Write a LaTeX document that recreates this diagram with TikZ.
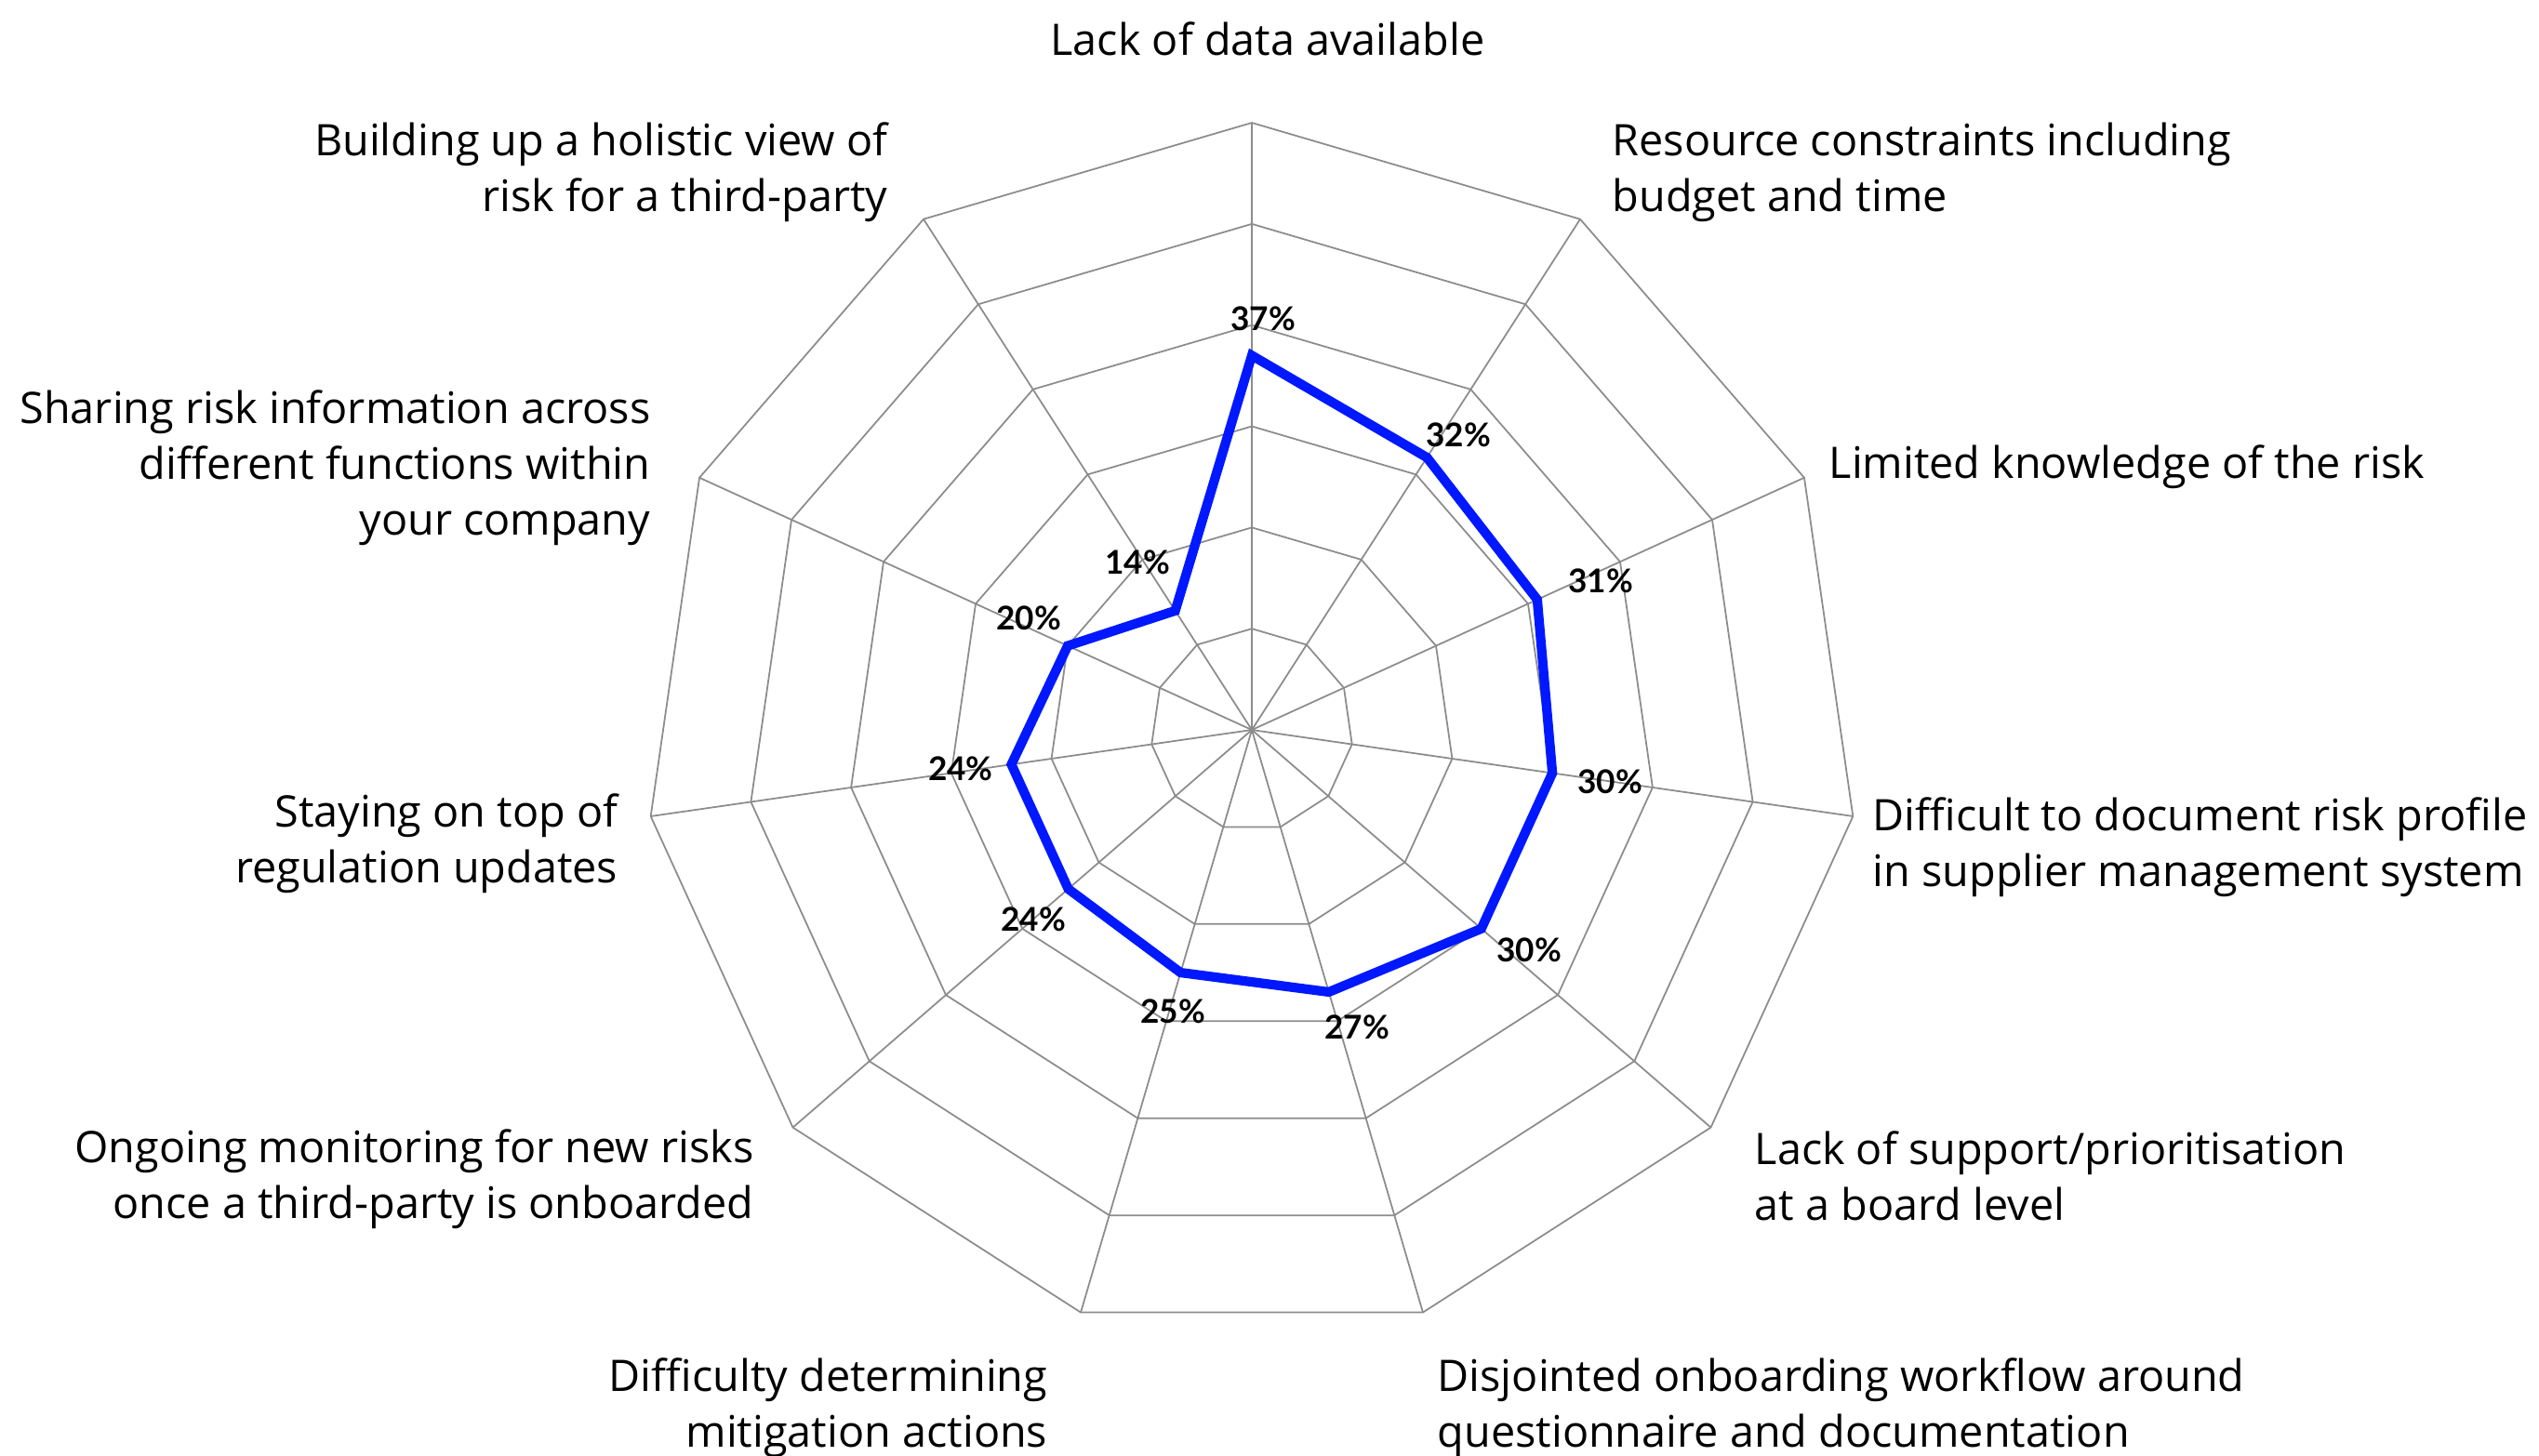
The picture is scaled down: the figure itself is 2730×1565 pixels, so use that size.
\documentclass[tikz,border=0pt]{standalone}
\usepackage{fontspec}
\setmainfont{Open Sans}
\newfontfamily\pctfont{Lato}
\definecolor{gridgray}{RGB}{140,140,140}
\definecolor{serieblue}{RGB}{0,24,255}
\newcommand\cellL[1]{\begin{tabular}[t]{@{}l@{}}#1\end{tabular}}
\newcommand\cellR[1]{\begin{tabular}[t]{@{}r@{}}#1\end{tabular}}
\begin{document}
\begin{tikzpicture}[x=0.01cm,y=-0.01cm,
  gridline/.style={draw=gridgray,line width=0.5pt},
  series/.style={draw=serieblue,line width=2.9pt,line join=miter},
  cat/.style={inner sep=0pt,font=\fontsize{13.3}{17.07}\selectfont},
  pct/.style={inner sep=0pt,font=\pctfont\bfseries\fontsize{10}{11}\selectfont},
]
\useasboundingbox (0,0) rectangle (2730,1565);
\def\cx{1346}\def\cy{785}\def\R{653}
\coordinate (O) at (\cx,\cy);
\foreach \k in {0,...,10}{
  \pgfmathsetmacro\ang{90-\k*360/11}
  \coordinate (A\k) at ({\cx+\R*cos(\ang)},{\cy-\R*sin(\ang)});
}
% rings
\foreach \r in {1,...,6}{
  \draw[gridline] ({\cx},{\cy-\r*\R/6})
    \foreach \k in {1,...,10}{ -- ({\cx+\r*\R/6*cos(90-\k*360/11)},{\cy-\r*\R/6*sin(90-\k*360/11)}) } -- cycle;
}
% spokes
\foreach \k in {0,...,10}{ \draw[gridline] (O) -- (A\k); }
% data
\foreach \k/\v in {0/37,1/32,2/31,3/30,4/30,5/27,6/25,7/24,8/24,9/20,10/14}{
  \pgfmathsetmacro\ang{90-\k*360/11}
  \coordinate (D\k) at ({\cx+\v/60*\R*cos(\ang)},{\cy-\v/60*\R*sin(\ang)});
}
\draw[series] (D0) -- (D1) -- (D2) -- (D3) -- (D4) -- (D5) -- (D6) -- (D7) -- (D8) -- (D9) -- (D10) -- cycle;
% value labels
\node[pct] (p0) at (1358,343) {37\%};
\node[pct] (p1) at (1568,468) {32\%};
\node[pct] (p2) at (1721,625) {31\%};
\node[pct] (p3) at (1731,841) {30\%};
\node[pct] (p4) at (1644,1022) {30\%};
\node[pct] (p5) at (1459,1105) {27\%};
\node[pct] (p6) at (1261,1088) {25\%};
\node[pct] (p7) at (1111,989) {24\%};
\node[pct] (p8) at (1033,827) {24\%};
\node[pct] (p9) at (1106,665) {20\%};
\node[pct] (p10) at (1223,605) {14\%};
% category labels
\node[cat,anchor=base] (c0) at (1363,59) {Lack of data available};
\node[cat,anchor=base west] (c1) at (1733,167) {\cellL{Resource constraints including\\budget and time}};
\node[cat,anchor=base west] (c2) at (1966,514) {Limited knowledge of the risk};
\node[cat,anchor=base west] (c3) at (2013,893) {\cellL{Difficult to document risk profile\\in supplier management system}};
\node[cat,anchor=base west] (c4) at (1886,1252) {\cellL{Lack of support/prioritisation\\at a board level}};
\node[cat,anchor=base west] (c5) at (1545,1496) {\cellL{Disjointed onboarding workflow around\\questionnaire and documentation}};
\node[cat,anchor=base east] (c6) at (1127,1496) {\cellR{Difficulty determining\\mitigation actions}};
\node[cat,anchor=base east] (c7) at (811,1250) {\cellR{Ongoing monitoring for new risks\\once a third-party is onboarded}};
\node[cat,anchor=base east] (c8) at (665,889) {\cellR{Staying on top of\\regulation updates}};
\node[cat,anchor=base east] (c9) at (700,455) {\cellR{Sharing risk information across\\different functions within\\your company}};
\node[cat,anchor=base east] (c10) at (955,167) {\cellR{Building up a holistic view of\\risk for a third-party}};
\end{tikzpicture}
\end{document}
